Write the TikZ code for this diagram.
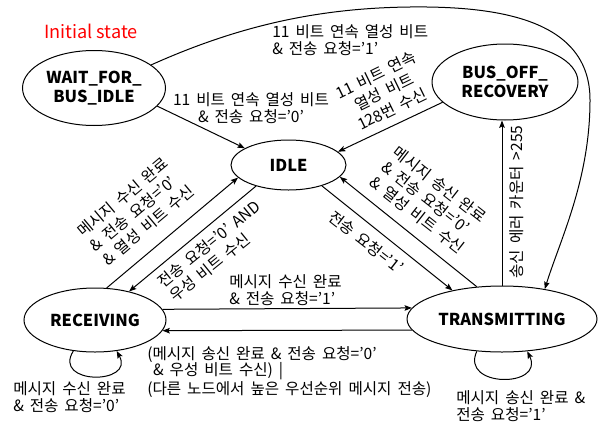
\documentclass[tikz,border=0pt]{standalone}
\usepackage{fontspec}
\setmainfont{Noto Sans CJK KR}[WordSpace=1.7]
\newfontfamily\latinfont{Noto Sans CJK KR}
\usetikzlibrary{shapes.geometric,arrows.meta,calc}
\tikzset{
  state/.style={ellipse, draw, line width=0.75pt, inner sep=0pt, align=center,
    font=\fontsize{12.3}{14.6}\selectfont\bfseries},
  arr/.style={line width=0.75pt, -{Stealth[length=5.5pt,width=4.2pt,inset=1pt]}},
  lbl/.style={font=\fontsize{11.7}{12.3}\selectfont, inner sep=0pt},
  rlbl/.style={font=\fontsize{11.7}{14.2}\selectfont, inner sep=0pt},
}
\begin{document}
\begin{tikzpicture}[x=0.75pt,y=-0.75pt]
\useasboundingbox (0,0) rectangle (602,421);
% states
\node[state, minimum width=107.25pt, minimum height=56.25pt] (wait) at (94,88) {WAIT\_FOR\_\\BUS\_IDLE};
\node[state, minimum width=109.5pt, minimum height=57pt] (bus) at (505,82) {BUS\_OFF\_\\RECOVERY};
\node[state, minimum width=86.25pt, minimum height=37.5pt] (idle) at (288.5,165) {IDLE};
\node[state, minimum width=106.5pt, minimum height=48pt] (recv) at (95,320) {RECEIVING};
\node[state, minimum width=142.5pt, minimum height=49.5pt] (trans) at (502,319) {TRANSMITTING};
\node[font=\latinfont\fontsize{13.6}{16}\selectfont, text=red, inner sep=0pt] (init) at (91,31) {Initial state};
% connectors
\draw[arr] (wait.-16) -- (idle.159.5);
\draw[arr] (wait.22) .. controls (240,25) and (320,8) .. (410,7)
  .. controls (500,6) and (590,20) .. (590,100)
  .. controls (590,180) and (560,240) .. (trans.35);
\draw[arr] (bus.-162.6) -- (idle.15.4);
\draw[arr] (trans.north) -- (trans.north |- bus.south);
\draw[arr] (recv.70) -- (idle.-166);
\draw[arr] (idle.-147.6) -- (recv.40);
\draw[arr] (idle.-32.1) -- (trans.150.9);
\draw[arr] (trans.128.5) -- (idle.-13.7);
\draw[arr] (recv.9.4) -- (trans.173.7);
\draw[arr] (trans.187.7) -- (recv.-9.4);
\draw[arr] (recv.-125) .. controls (52,385) and (135,385) .. (recv.-55);
\draw[arr] (trans.-128) .. controls (460,388) and (545,388) .. (trans.-52);
% labels
\node[lbl, align=center] (tA) at (251,108) {11 비트 연속 열성 비트\\\& 전송 요청='0'};
\node[lbl, align=left, anchor=west] (tB) at (272,40) {11 비트 연속 열성 비트\\\& 전송 요청='1'};
\node[rlbl, align=center, rotate=26] (tC) at (384,92) {11 비트 연속\\열성 비트\\128번 수신};
\node[lbl, rotate=90] (tD) at (517,202) {송신 에러 카운터 >255};
\node[rlbl, align=left, rotate=40] (tE) at (136,211) {메시지 수신 완료\\\& 전송 요청='0'\\\& 열성 비트 수신};
\node[rlbl, align=left, rotate=39] (tF) at (215,251) {전송 요청='0' AND\\우성 비트 수신};
\node[lbl, rotate=-38] (tG) at (366,242) {전송 요청='1'};
\node[rlbl, align=left, rotate=-38] (tH) at (429,200) {메시지 송신 완료\\\& 전송 요청='0'\\\& 열성 비트 수신};
\node[lbl, align=left, anchor=west] (tI) at (229,290) {메시지 수신 완료\\\& 전송 요청='1'};
\node[lbl, align=left, anchor=west] (tJ) at (147,372) {(메시지 송신 완료 \& 전송 요청='0'\\\ \& 우성 비트 수신) |\\(다른 노드에서 높은 우선순위 메시지 전송)};
\node[lbl, align=left, anchor=west] (tK) at (13,397) {메시지 수신 완료\\\& 전송 요청='0'};
\node[lbl, align=left, anchor=west] (tL) at (456,406) {메시지 송신 완료 \&\\전송 요청='1'};
\end{tikzpicture}
\end{document}
